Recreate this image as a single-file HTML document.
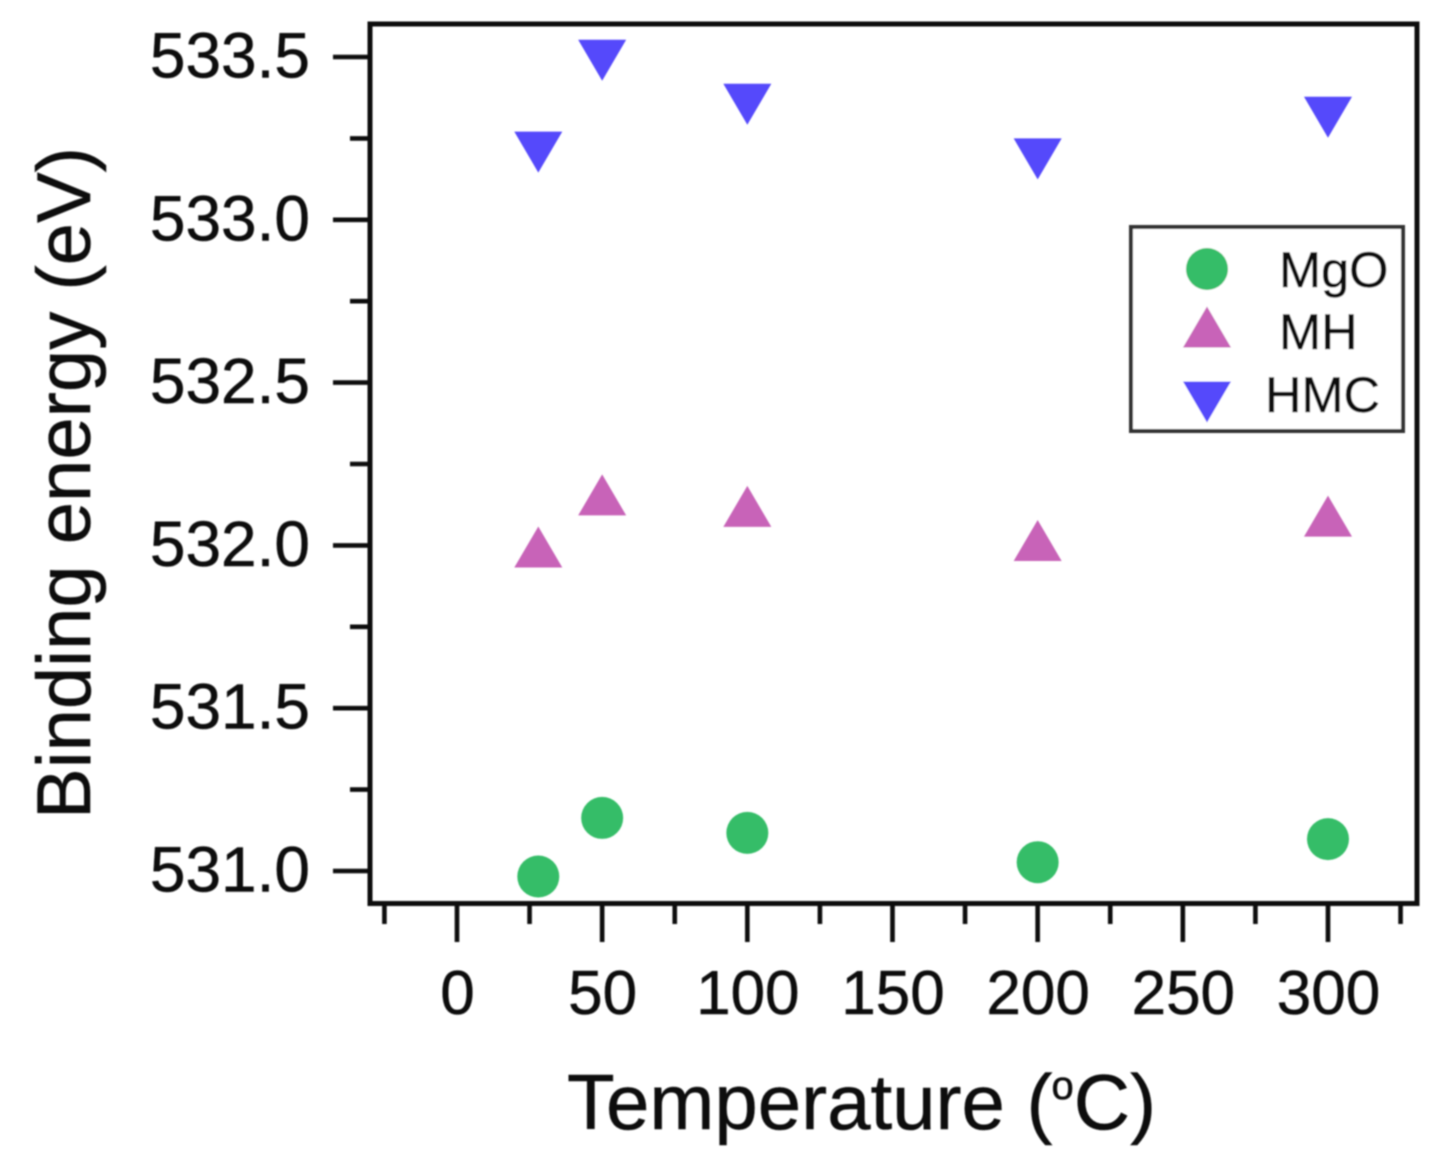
<!DOCTYPE html>
<html>
<head>
<meta charset="utf-8">
<title>Binding energy vs temperature</title>
<style>
html,body{margin:0;padding:0;background:#fff;}
svg{display:block;}
text{font-family:"Liberation Sans",sans-serif;fill:#111;stroke:#111;stroke-width:0.5;}
</style>
</head>
<body>
<svg id="chart" xmlns="http://www.w3.org/2000/svg" width="1436" height="1174" viewBox="0 0 1436 1174">
<defs><filter id="soft" x="-2%" y="-2%" width="104%" height="104%"><feGaussianBlur stdDeviation="0.8"/></filter></defs>
<g id="root" filter="url(#soft)">
<text transform="translate(90,819) rotate(-90)" font-size="76" textLength="672" lengthAdjust="spacingAndGlyphs">Binding energy (eV)</text>
<text x="567" y="1129" font-size="78">Temperature (<tspan font-size="40" dx="-1" dy="-30">o</tspan><tspan dy="30">C)</tspan></text>
<rect x="370" y="24" width="1047" height="879.5" fill="none" stroke="#0a0a0a" stroke-width="5"/>
<g id="ticks"></g>
<g id="marks"></g>
<g id="legend">
<rect x="1131" y="227" width="272" height="204" fill="#fff" stroke="#333" stroke-width="4"/>
<text x="1279" y="287" font-size="50.5">MgO</text>
<text x="1279" y="349" font-size="50.5">MH</text>
<text x="1265" y="412" font-size="50.5">HMC</text>
</g>
</g>
</svg>
<script>
const temperatures = [28, 50, 100, 200, 300];
const mgoValues = [530.983, 531.163, 531.117, 531.027, 531.098];
const mhValues = [531.995, 532.155, 532.12, 532.015, 532.09];
const hmcValues = [533.208, 533.49, 533.355, 533.187, 533.315];
const xMajorTicks = [0, 50, 100, 150, 200, 250, 300];
const xMinorTicks = [-25, 25, 75, 125, 175, 225, 275, 325];
const yMajorTicks = [531.0, 531.5, 532.0, 532.5, 533.0, 533.5];
const yMinorTicks = [531.25, 531.75, 532.25, 532.75, 533.25];

const NS = 'http://www.w3.org/2000/svg';
const GREEN = '#35bd68', PINK = '#c864b8', BLUE = '#5448fb';
const xScale = v => 457 + (v - 0) * 2.9033;
const yScale = v => 871 - (v - 531) * 325.6;

function make(tag, parent) {
  const el = document.createElementNS(NS, tag);
  parent.appendChild(el);
  return el;
}
function drawLine(parent, x1, y1, x2, y2) {
  const l = make('line', parent);
  l.setAttribute('x1', x1);
  l.setAttribute('y1', y1);
  l.setAttribute('x2', x2);
  l.setAttribute('y2', y2);
  l.setAttribute('stroke', '#0a0a0a');
  l.setAttribute('stroke-width', 4.6);
  return l;
}
function drawLabel(parent, x, y, anchor, size, str) {
  const t = make('text', parent);
  t.setAttribute('x', x);
  t.setAttribute('y', y);
  t.setAttribute('text-anchor', anchor);
  t.setAttribute('font-size', size);
  t.textContent = str;
  return t;
}
function drawCircle(parent, cx, cy, color) {
  const c = make('circle', parent);
  c.setAttribute('cx', cx);
  c.setAttribute('cy', cy);
  c.setAttribute('r', 21);
  c.setAttribute('fill', color);
  return c;
}
function drawTriangle(parent, cx, cy, up, color) {
  const p = make('polygon', parent);
  const h = 20.5, w = 24;
  const pts = up
    ? [[cx, cy - h], [cx + w, cy + h], [cx - w, cy + h]]
    : [[cx - w, cy - h], [cx + w, cy - h], [cx, cy + h]];
  p.setAttribute('points', pts.map(q => q.join(',')).join(' '));
  p.setAttribute('fill', color);
  return p;
}

const ticks = document.getElementById('ticks');
const marks = document.getElementById('marks');
const legend = document.getElementById('legend');

xMajorTicks.forEach(v => {
  const l = drawLine(ticks, xScale(v), 903, xScale(v), 942);
  
  
  const t = drawLabel(ticks, xScale(v) + 0.5, 1014, 'middle', 62, String(v));
  
  
});
xMinorTicks.forEach(v => {
  const l = drawLine(ticks, xScale(v), 903, xScale(v), 924);
  
  
});
yMajorTicks.forEach(v => {
  const l = drawLine(ticks, 333, yScale(v), 370, yScale(v));
  
  
  const t = drawLabel(ticks, 310, yScale(v) + 20.5, 'end', 64, v.toFixed(1));
  
  
});
yMinorTicks.forEach(v => {
  const l = drawLine(ticks, 350, yScale(v), 370, yScale(v));
  
  
});

temperatures.forEach((temp, i) => {
  const c = drawCircle(marks, xScale(temp), yScale(mgoValues[i]), GREEN);
  
  
  const u = drawTriangle(marks, xScale(temp), yScale(mhValues[i]), true, PINK);
  
  
  const d = drawTriangle(marks, xScale(temp), yScale(hmcValues[i]), false, BLUE);
  
  
});

const lc = drawCircle(legend, 1207, 269, GREEN);


const lu = drawTriangle(legend, 1207, 327, true, PINK);


const ld = drawTriangle(legend, 1207, 402, false, BLUE);


</script>
</body>
</html>
